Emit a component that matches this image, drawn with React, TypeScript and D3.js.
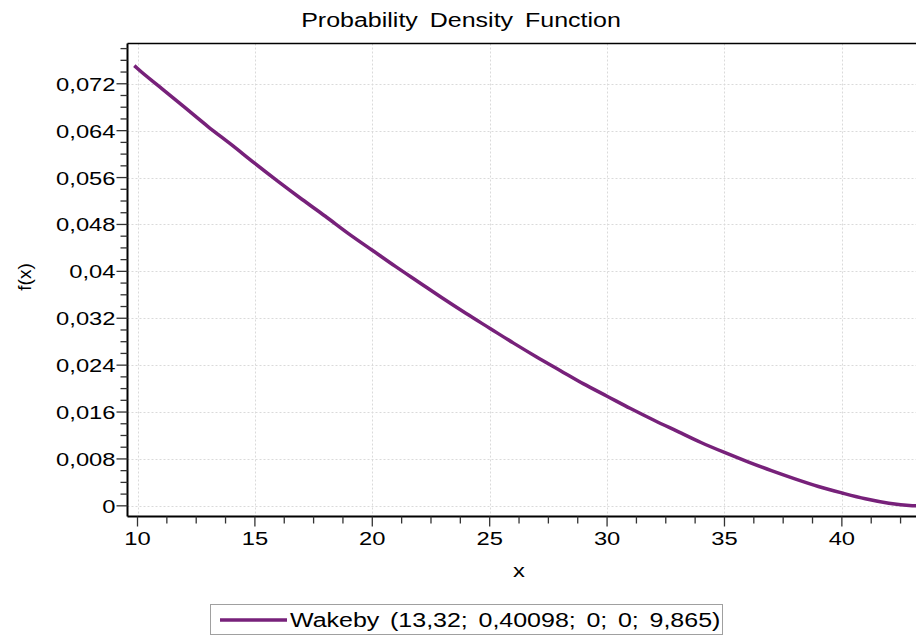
import React from 'react';
import * as d3 from 'd3';

// values
const xValues = [9.865, 10, 11, 12, 13, 14, 15, 16, 17, 18, 19, 20, 21, 22, 23, 24, 25, 26, 27, 28, 29, 30, 31, 32, 33, 34, 35, 36, 37, 38, 39, 40, 41, 42, 43, 43.08, 43.3];
const fValues = [0.0751, 0.0746, 0.0713, 0.068, 0.0647, 0.0616, 0.0584, 0.0553, 0.0523, 0.0494, 0.0464, 0.0436, 0.0408, 0.0381, 0.0354, 0.0328, 0.0303, 0.0278, 0.0254, 0.0231, 0.0208, 0.0187, 0.0166, 0.0146, 0.0127, 0.0108, 0.0091, 0.0075, 0.006, 0.0046, 0.0033, 0.0022, 0.0012, 0.00045, 0.00002, 0, 0];

const xTicks = [10, 15, 20, 25, 30, 35, 40];
const xTickLabels = ['10', '15', '20', '25', '30', '35', '40'];
const yTicks = [0, 0.008, 0.016, 0.024, 0.032, 0.04, 0.048, 0.056, 0.064, 0.072];
const yTickLabels = ['0', '0,008', '0,016', '0,024', '0,032', '0,04', '0,048', '0,056', '0,064', '0,072'];

const title = 'Probability Density Function';
const xTitle = 'x';
const yTitle = 'f(x)';
const legendLabel = 'Wakeby (13,32; 0,40098; 0; 0; 9,865)';

const W = 916;
const H = 639;
const plot = { left: 127.5, right: 917, top: 43.5, bottom: 516.5 };
const LINE = '#77217a';
const FONT = '"Liberation Sans", Arial, sans-serif';
const SX = 1.25; // glyphs in the reference are drawn wide

export default function App() {
  const x = d3.scaleLinear().domain([9.574, 43.2]).range([plot.left, plot.right]);
  const y = d3.scaleLinear().domain([-0.00182, 0.07887]).range([plot.bottom, plot.top]);

  const pts = xValues.map((v, i) => [v, fValues[i]] as [number, number]);
  const line = d3.line<[number, number]>()
    .x(d => x(d[0]))
    .y(d => y(d[1]))
    .curve(d3.curveMonotoneX);

  const xMinor = d3.range(10, 43.1, 1.25).filter(v => !xTicks.includes(v));
  const yMinor = d3.range(0, 0.0789, 0.002).filter(v => !yTicks.some(t => Math.abs(t - v) < 1e-9));

  return (
    <svg width={W} height={H} style={{ position: 'absolute', left: 0, top: 0, background: '#fff' }} fontFamily={FONT}>
      <defs>
        <clipPath id="plotClip">
          <rect x={plot.left} y={plot.top} width={plot.right - plot.left} height={plot.bottom - plot.top} />
        </clipPath>
      </defs>

      {/* grid */}
      <g stroke="#dadada" strokeWidth={1} strokeDasharray="2,2">
        {xTicks.map(t => (
          <line key={'gx' + t} x1={Math.round(x(t)) + 0.5} x2={Math.round(x(t)) + 0.5} y1={plot.top} y2={plot.bottom} />
        ))}
        {yTicks.map(t => (
          <line key={'gy' + t} x1={plot.left} x2={plot.right} y1={Math.round(y(t)) + 0.5} y2={Math.round(y(t)) + 0.5} />
        ))}
      </g>

      {/* curve */}
      <path d={line(pts) || ''} fill="none" stroke={LINE} strokeWidth={3.5} clipPath="url(#plotClip)" />

      {/* frame */}
      <line x1={plot.left} x2={plot.right} y1={plot.top} y2={plot.top} stroke="#000" strokeWidth={1.5} />
      <line x1={plot.left} x2={plot.left} y1={plot.top} y2={plot.bottom} stroke="#000" strokeWidth={2} />
      <line x1={plot.left} x2={plot.right} y1={plot.bottom} y2={plot.bottom} stroke="#000" strokeWidth={2} />

      {/* ticks */}
      <g stroke="#333" strokeWidth={1.3}>
        {yTicks.map(t => (
          <line key={'yt' + t} x1={plot.left - 11} x2={plot.left} y1={y(t)} y2={y(t)} />
        ))}
        {yMinor.map(t => (
          <line key={'ym' + t} x1={plot.left - 7} x2={plot.left} y1={y(t)} y2={y(t)} />
        ))}
        {xTicks.map(t => (
          <line key={'xt' + t} x1={x(t)} x2={x(t)} y1={plot.bottom} y2={plot.bottom + 10} />
        ))}
        {xMinor.map(t => (
          <line key={'xm' + t} x1={x(t)} x2={x(t)} y1={plot.bottom} y2={plot.bottom + 7} />
        ))}
      </g>

      {/* tick labels */}
      <g fontSize={19} fill="#000">
        {yTicks.map((t, i) => (
          <text key={'yl' + t} transform={`translate(${plot.left - 12},${y(t) + 7}) scale(${SX},1)`} textAnchor="end">
            {yTickLabels[i]}
          </text>
        ))}
        {xTicks.map((t, i) => (
          <text key={'xl' + t} transform={`translate(${x(t)},${plot.bottom + 28}) scale(${SX},1)`} textAnchor="middle">
            {xTickLabels[i]}
          </text>
        ))}
      </g>

      {/* titles */}
      <text transform={`translate(461,27) scale(${SX},1)`} textAnchor="middle" fontSize={20} wordSpacing={4}>
        {title}
      </text>
      <text transform={`translate(519,577) scale(${SX},1)`} textAnchor="middle" fontSize={19}>
        {xTitle}
      </text>
      <text transform="translate(31,277) rotate(-90)" textAnchor="middle" fontSize={19}>
        {yTitle}
      </text>

      {/* legend */}
      <rect x={210.5} y={604.5} width={512} height={30} fill="#fff" stroke="#a0a0a0" strokeWidth={1} />
      <line x1={220} x2={287} y1={620} y2={620} stroke={LINE} strokeWidth={3.5} />
      <text transform={`translate(290,627) scale(${SX},1)`} fontSize={20} wordSpacing={3}>
        {legendLabel}
      </text>
    </svg>
  );
}
